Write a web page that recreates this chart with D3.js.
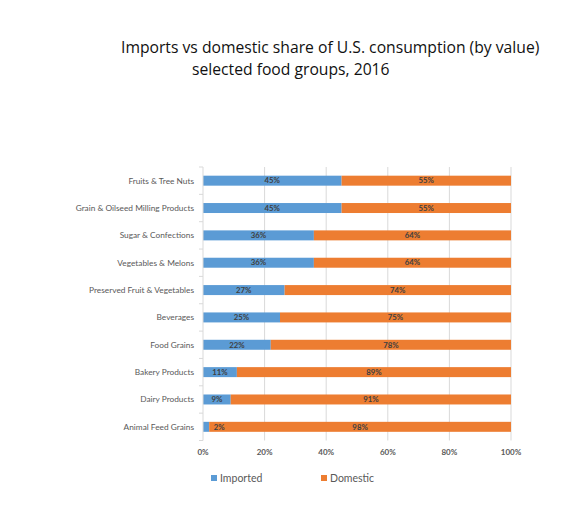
<!DOCTYPE html>
<html>
<head>
<meta charset="utf-8">
<script src="https://cdn.jsdelivr.net/npm/d3@7"></script>
<style>
  body { margin: 0; background: #fff; }
  svg { display: block; }
</style>
</head>
<body>
<svg width="582" height="514"></svg>
<script>
// data
const categories = [
    "Fruits & Tree Nuts",
    "Grain & Oilseed Milling Products",
    "Sugar & Confections",
    "Vegetables & Melons",
    "Preserved Fruit & Vegetables",
    "Beverages",
    "Food Grains",
    "Bakery Products",
    "Dairy Products",
    "Animal Feed Grains"
];
const imported = [45, 45, 36, 36, 26.5, 25, 22, 11, 9, 2];
const domestic = [55, 55, 64, 64, 73.5, 75, 78, 89, 91, 98];
const xTicks = [0, 20, 40, 60, 80, 100];
const seriesNames = ["Imported", "Domestic"];
const colors = ["#5b9bd5", "#ed7d31"];

const svg = d3.select("svg");
const labelFont = "Lato, 'Open Sans', sans-serif";

const x = d3.scaleLinear().domain([0, 100]).range([203, 511]);
const y = d3.scaleBand().domain(categories).range([167, 440.5])
    .paddingInner(0.635).paddingOuter(0.3175);

// title
const title = svg.append("g")
    .attr("font-family", "'Open Sans', sans-serif")
    .attr("font-size", 15.7)
    .attr("fill", "#111");
title.append("text").attr("x", 121).attr("y", 53)
    .text("Imports vs domestic share of U.S. consumption (by value)");
title.append("text").attr("x", 192).attr("y", 75)
    .text("selected food groups, 2016");

// gridlines
svg.append("g")
    .selectAll("line")
    .data(xTicks.slice(1))
    .join("line")
    .attr("x1", d => x(d)).attr("x2", d => x(d))
    .attr("y1", 167).attr("y2", 440.5)
    .attr("stroke", "#d9d9d9")
    .attr("stroke-width", 1);

// stacked bars
const rows = categories.map((c, i) => ({ cat: c, vals: [imported[i], domestic[i]] }));
const segments = d => {
    let start = 0;
    return d.vals.map((v, k) => {
        const seg = { cat: d.cat, k, v, x0: start, x1: Math.min(100, start + v) };
        start += v;
        return seg;
    });
};

const row = svg.append("g").selectAll("g")
    .data(rows)
    .join("g");

row.selectAll("rect")
    .data(segments)
    .join("rect")
    .attr("x", d => x(d.x0))
    .attr("width", d => x(d.x1) - x(d.x0))
    .attr("y", d => y(d.cat))
    .attr("height", y.bandwidth())
    .attr("fill", d => colors[d.k]);

// value labels
row.selectAll("text")
    .data(segments)
    .join("text")
    .attr("x", d => {
        const w = x(d.x1) - x(d.x0);
        return w < 15 ? x(d.x1) + 10 : (x(d.x0) + x(d.x1)) / 2;
    })
    .attr("y", d => y(d.cat) + y.bandwidth() / 2)
    .attr("dy", "0.35em")
    .attr("text-anchor", "middle")
    .attr("font-family", labelFont)
    .attr("font-size", 7.8)
    .attr("font-weight", "bold")
    .attr("fill", "#404040")
    .text(d => Math.round(d.v) + "%");

// y axis
const yAxis = svg.append("g").attr("transform", "translate(203,0)");
yAxis.append("line")
    .attr("x1", 0).attr("x2", 0).attr("y1", 167).attr("y2", 440.5)
    .attr("stroke", "#d9d9d9");
const step = y.step();
yAxis.selectAll(".tick")
    .data(d3.range(categories.length + 1))
    .join("line")
    .attr("class", "tick")
    .attr("x1", -4).attr("x2", 0)
    .attr("y1", i => 167 + i * step).attr("y2", i => 167 + i * step)
    .attr("stroke", "#d9d9d9");
yAxis.selectAll("text")
    .data(categories)
    .join("text")
    .attr("x", -9)
    .attr("y", d => y(d) + y.bandwidth() / 2)
    .attr("dy", "0.35em")
    .attr("text-anchor", "end")
    .attr("font-family", labelFont)
    .attr("font-size", 8.3)
    .attr("fill", "#595959")
    .text(d => d);

// x axis labels
svg.append("g").selectAll("text")
    .data(xTicks)
    .join("text")
    .attr("x", d => x(d))
    .attr("y", 452)
    .attr("dy", "0.35em")
    .attr("text-anchor", "middle")
    .attr("font-family", labelFont)
    .attr("font-size", 8)
    .attr("font-weight", "bold")
    .attr("fill", "#595959")
    .text(d => d + "%");

// legend
const legendX = [211, 321];
const legend = svg.append("g").selectAll("g")
    .data(seriesNames)
    .join("g")
    .attr("transform", (d, i) => `translate(${legendX[i]},478)`);
legend.append("rect")
    .attr("x", 0).attr("y", -3)
    .attr("width", 6).attr("height", 6)
    .attr("fill", (d, i) => colors[i]);
legend.append("text")
    .attr("x", 9)
    .attr("dy", "0.35em")
    .attr("font-family", labelFont)
    .attr("font-size", 10.5)
    .attr("fill", "#595959")
    .text(d => d);
</script>
</body>
</html>
